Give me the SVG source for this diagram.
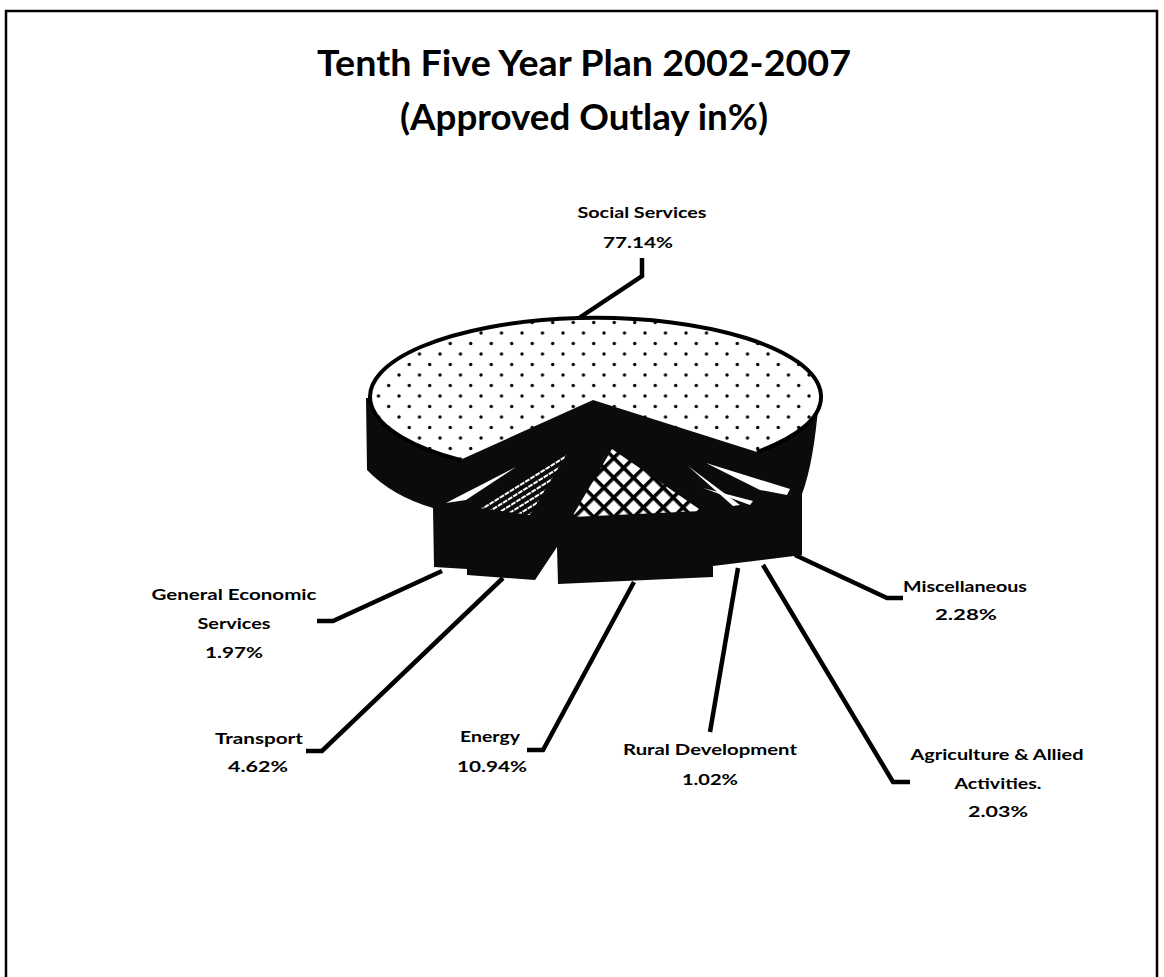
<svg xmlns="http://www.w3.org/2000/svg" width="1164" height="977" viewBox="0 0 1164 977">
<defs>
<style>
.lbl{font-family:Lato,"Open Sans","Liberation Sans",sans-serif;font-weight:bold;font-size:16px;fill:#000;text-anchor:middle}
.ttl{font-family:Lato,"Open Sans","Liberation Sans",sans-serif;font-weight:bold;font-size:37px;fill:#000;text-anchor:middle}
.lead{fill:none;stroke:#000;stroke-width:4.5;stroke-linejoin:miter;stroke-linecap:butt}
.blk{fill:#0b0b0b}
.wht{fill:#fff}
</style>
<pattern id="dots" x="518" y="329" width="20.5" height="21" patternUnits="userSpaceOnUse">
<rect width="20.5" height="21" fill="#fff"/>
<circle cx="4" cy="4" r="1.7" fill="#000"/>
<circle cx="14.25" cy="14.5" r="1.7" fill="#000"/>
</pattern>
<pattern id="hatch" width="6" height="6" patternUnits="userSpaceOnUse" patternTransform="rotate(-32)">
<rect width="6" height="6" fill="#0b0b0b"/>
<line x1="0" y1="3" x2="6" y2="3" stroke="#fff" stroke-width="1.8" stroke-dasharray="3 1"/>
</pattern>
<pattern id="xhatch" width="14" height="14" patternUnits="userSpaceOnUse" patternTransform="rotate(45)">
<rect width="14" height="14" fill="#fff"/>
<rect width="14" height="3.6" fill="#000"/>
<rect width="3.6" height="14" fill="#000"/>
</pattern>
</defs>
<rect width="1164" height="977" fill="#fff"/>
<path d="M6,990 L6,11 L1157,11 L1157,990" fill="none" stroke="#000" stroke-width="2.5"/>
<text class="ttl" x="584" y="76" textLength="534" lengthAdjust="spacingAndGlyphs">Tenth Five Year Plan 2002-2007</text>
<text class="ttl" x="584" y="130" textLength="368" lengthAdjust="spacingAndGlyphs">(Approved Outlay in%)</text>
<g id="connectors">
<polyline class="lead" points="573,322 642,276 642,258"/>
<polyline class="lead" points="442,571 333,621 317,621"/>
<polyline class="lead" points="503,578 322,751 306,751"/>
<polyline class="lead" points="634,582 543,750 527,750"/>
<polyline class="lead" points="738,568 710,732"/>
<polyline class="lead" points="763,565 893,782 910,782"/>
<polyline class="lead" points="795,555 887,598 903,598"/>
</g>
<g id="pie-body">
<path class="blk" d="M366,398 L367,470 Q392,496 433,508 L434,567 L467,569 L467,575 L535,580 L557,547 L558,584 L713,577 L713,566 L802,555 L802,494 Q814,462 819,398 Z"/>
</g>
<g id="general-economic-services">
<polygon class="wht" points="516,467 446,503 466,500"/>
<text class="lbl" x="234" y="600" textLength="165" lengthAdjust="spacingAndGlyphs">General Economic</text>
<text class="lbl" x="234" y="629" textLength="73" lengthAdjust="spacingAndGlyphs">Services</text>
<text class="lbl" x="234" y="658" textLength="58" lengthAdjust="spacingAndGlyphs">1.97%</text>
</g>
<g id="transport">
<polygon fill="url(#hatch)" points="568,452 480,508 530,515"/>
<text class="lbl" x="259" y="744" textLength="88" lengthAdjust="spacingAndGlyphs">Transport</text>
<text class="lbl" x="258" y="772" textLength="60" lengthAdjust="spacingAndGlyphs">4.62%</text>
</g>
<g id="energy">
<polygon fill="url(#xhatch)" points="612,449 572,517 702,511"/>
<text class="lbl" x="490" y="742" textLength="60" lengthAdjust="spacingAndGlyphs">Energy</text>
<text class="lbl" x="492" y="772" textLength="70" lengthAdjust="spacingAndGlyphs">10.94%</text>
</g>
<g id="rural-development">
<polygon class="wht" points="688,466 740,505 733,506"/>
<text class="lbl" x="710" y="755" textLength="174" lengthAdjust="spacingAndGlyphs">Rural Development</text>
<text class="lbl" x="710" y="785" textLength="56" lengthAdjust="spacingAndGlyphs">1.02%</text>
</g>
<g id="agriculture">
<polygon class="wht" points="703,488 753,501 750,505"/>
<text class="lbl" x="997" y="760" textLength="173" lengthAdjust="spacingAndGlyphs">Agriculture &amp; Allied</text>
<text class="lbl" x="998" y="789" textLength="87" lengthAdjust="spacingAndGlyphs">Activities.</text>
<text class="lbl" x="998" y="817" textLength="60" lengthAdjust="spacingAndGlyphs">2.03%</text>
</g>
<g id="miscellaneous">
<polygon class="wht" points="706,463 790,489 787,495 760,490"/>
<text class="lbl" x="965" y="592" textLength="124" lengthAdjust="spacingAndGlyphs">Miscellaneous</text>
<text class="lbl" x="966" y="620" textLength="62" lengthAdjust="spacingAndGlyphs">2.28%</text>
</g>
<g id="social-services">
<path d="M593,400 L757,452 A225.5,79 0 1 0 460,460 Z" fill="url(#dots)"/>
<path d="M757,452 A225.5,79 0 1 0 460,460" fill="none" stroke="#000" stroke-width="4"/>
<text class="lbl" x="642" y="218" textLength="129" lengthAdjust="spacingAndGlyphs">Social Services</text>
<text class="lbl" x="638" y="248" textLength="70" lengthAdjust="spacingAndGlyphs">77.14%</text>
</g>
</svg>
